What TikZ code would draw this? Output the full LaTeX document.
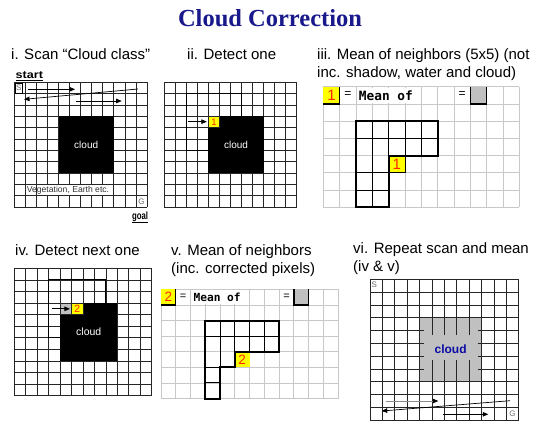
\documentclass[tikz,border=0pt]{standalone}
\usepackage{fontspec}
\setmainfont{Liberation Sans}
\newfontfamily\titlefont{Liberation Serif}
\newfontfamily\meanfont{DejaVu Sans Mono}
\usetikzlibrary{arrows.meta}
\definecolor{navy}{RGB}{25,25,140}
\definecolor{cloudblue}{RGB}{10,10,165}
\definecolor{yel}{RGB}{255,255,0}
\definecolor{digitred}{RGB}{255,40,0}
\definecolor{cgray}{RGB}{192,192,192}
\definecolor{lgrid}{RGB}{200,200,200}
\definecolor{sgray}{RGB}{105,105,105}
\tikzset{
  gridline/.style={line width=0.7pt, draw=black!85},
  lightgrid/.style={line width=0.8pt, draw=lgrid},
  thickout/.style={line width=2pt, draw=black, line join=miter, line cap=rect},
  medout/.style={line width=1.1pt, draw=black, line join=miter},
  innerline/.style={line width=0.9pt, draw=black},
  scanarrow/.style={line width=0.7pt, -{Triangle[length=5.5pt,width=4.5pt]}},
  grayarrow/.style={line width=0.7pt, draw=black!45, -{Triangle[length=5.5pt,width=4.5pt,color=black]}},
  ptitle/.style={font=\fontsize{15}{17}\selectfont, anchor=base west, inner sep=0},
  celltext/.style={inner sep=0, font=\fontsize{8}{9}\selectfont, text=sgray},
}
\begin{document}
\begin{tikzpicture}[x=1pt,y=-1pt]
\fill[white] (0,0) rectangle (538,421);
\useasboundingbox (0,0) rectangle (538,421);

% ---------- titles ----------
\node[font=\titlefont\bfseries\fontsize{24.5}{28}\selectfont, text=navy, anchor=base, inner sep=0] (title) at (270,26) {Cloud Correction};
\node[ptitle] (t1) at (11,59.5) {i. Scan “Cloud class”};
\node[ptitle] (t2) at (187,59.5) {ii. Detect one};
\node[ptitle] (t3a) at (317,59.5) {iii. Mean of neighbors (5x5) (not};
\node[ptitle] (t3b) at (317,77) {inc. shadow, water and cloud)};
\node[ptitle] (t4) at (15,255) {iv. Detect next one};
\node[ptitle] (t5a) at (171,255.5) {v. Mean of neighbors};
\node[ptitle] (t5b) at (171,273.5) {(inc. corrected pixels)};
\node[ptitle] (t6a) at (353,253.5) {vi. Repeat scan and mean};
\node[ptitle] (t6b) at (353,271) {(iv \& v)};

% ---------- panel i ----------
\begin{scope}[shift={(14.3,82.3)}, x=11.06pt, y=-11.34pt]
  \foreach \i in {0,...,12} \draw[gridline] (\i,0) -- (\i,11);
  \foreach \j in {0,...,11} \draw[gridline] (0,\j) -- (12,\j);
  \fill[black] (4,3) rectangle (9,8);
  \node[text=white, inner sep=0, font=\fontsize{10}{12}\selectfont] (cloudA) at (6.5,5.5) {cloud};
  \fill[white] (2.07,9.07) rectangle (8.93,9.93);
  \node[anchor=west, inner sep=0, font=\fontsize{8.6}{10}\selectfont, text=black!80] (veg) at (1.12,9.55) {Vegetation, Earth etc.};
  \node[draw=black, line width=0.6pt, fill=white, celltext, minimum width=7.6pt, minimum height=10pt, anchor=north west] (S1) at (0.03,0.03) {S};
  \node[celltext] (G1) at (11.5,10.5) {G};
\end{scope}
\node[anchor=base west, inner sep=0, font=\bfseries\fontsize{10.5}{12}\selectfont] (start) at (15.5,78) {\scalebox{1.2}[1]{start}};
\draw[line width=0.8pt] ([yshift=-2pt]start.base west) -- ([yshift=-2pt]start.base east);
\node[anchor=base east, inner sep=0, font=\bfseries\fontsize{10.5}{12}\selectfont] (goal) at (148.3,219.5) {\scalebox{0.74}[1]{goal}};
\draw[line width=0.8pt] ([yshift=-2.6pt]goal.base west) -- ([yshift=-2.6pt]goal.base east);
\coordinate (p1a) at (28,89.3);  \coordinate (p1b) at (75,89.3);
\coordinate (p1c) at (138,89);   \coordinate (p1d) at (24,99.3);
\coordinate (p1e) at (76,101);   \coordinate (p1f) at (121.7,101);
\draw[scanarrow] (p1a) -- (p1b);
\draw[scanarrow] (p1c) -- (p1d);
\draw[scanarrow] (p1e) -- (p1f);

% ---------- panel ii ----------
\begin{scope}[shift={(164.3,82.3)}, x=11.03pt, y=-11.34pt]
  \foreach \i in {0,...,12} \draw[gridline] (\i,0) -- (\i,11);
  \foreach \j in {0,...,11} \draw[gridline] (0,\j) -- (12,\j);
  \fill[black] (4,3) rectangle (9,8);
  \node[text=white, inner sep=0, font=\fontsize{10}{12}\selectfont] (cloudB) at (6.5,5.5) {cloud};
  \fill[yel] (4,3) rectangle (5,4);
  \draw[gridline] (4,3) rectangle (5,4);
  \node[text=digitred, inner sep=0, font=\fontsize{9.5}{11}\selectfont] (px1b) at (4.5,3.5) {1};
  \draw[medout] (4,6) -- (2,6) -- (2,1) -- (7,1) -- (7,3);
  \coordinate (p2a) at (2.18,3.47); \coordinate (p2b) at (3.86,3.47);
  \draw[scanarrow] (p2a) -- (p2b);
\end{scope}

% ---------- panel iii ----------
\begin{scope}[shift={(323.3,86.7)}, x=16.33pt, y=-17.23pt]
  \foreach \i in {0,...,12} \draw[lightgrid] (\i,0) -- (\i,7);
  \foreach \j in {0,...,7} \draw[lightgrid] (0,\j) -- (12,\j);
  \fill[yel] (0,0) rectangle (1,1);
  \draw[line width=1.3pt] (1,0) -- (1,1) -- (0,1);
  \node[text=digitred, inner sep=0, font=\fontsize{15}{17}\selectfont] (k1) at (0.5,0.5) {1};
  \node[inner sep=0, font=\fontsize{12}{14}\selectfont] (eq1) at (1.5,0.45) {=};
  \fill[white] (2.07,0.07) rectangle (5.93,0.93);
  \node[anchor=west, inner sep=0, font=\meanfont\bfseries\fontsize{12.8}{14}\selectfont] (mean1) at (2.17,0.5) {Mean of};
  \node[inner sep=0, font=\fontsize{12}{14}\selectfont] (eq2) at (8.5,0.45) {=};
  \fill[cgray] (9,0) rectangle (10,1);
  \draw[line width=1.5pt] (9,0) -- (9,1) -- (10,1) -- (10,0);
  % neighbourhood
  \draw[innerline] (3,2) -- (3,7);
  \foreach \i in {4,5,6} \draw[innerline] (\i,2) -- (\i,4);
  \draw[innerline] (2,3) -- (7,3);
  \draw[innerline] (2,5) -- (4,5);
  \draw[innerline] (2,6) -- (4,6);
  \fill[yel] (4,4) rectangle (5,5);
  \draw[innerline] (4,4) rectangle (5,5);
  \node[text=digitred, inner sep=0, font=\fontsize{15}{17}\selectfont] (px1c) at (4.5,4.5) {1};
  \draw[thickout] (2,2) -- (7,2) -- (7,4) -- (4,4) -- (4,7) -- (2,7) -- cycle;
\end{scope}

% ---------- panel iv ----------
\begin{scope}[shift={(14.3,268.3)}, x=11.45pt, y=-11.58pt]
  \foreach \i in {0,...,12} \draw[gridline] (\i,0) -- (\i,11);
  \foreach \j in {0,...,11} \draw[gridline] (0,\j) -- (12,\j);
  \fill[black] (4,3) rectangle (9,8);
  \node[text=white, inner sep=0, font=\fontsize{10.5}{12}\selectfont] (cloudD) at (6.5,5.5) {cloud};
  \fill[cgray] (4,3) rectangle (5,4);
  \fill[yel] (5,3) rectangle (6,4);
  \draw[gridline] (4,3) rectangle (6,4);
  \draw[gridline] (5,3) -- (5,4);
  \node[text=digitred, inner sep=0, font=\fontsize{10.5}{12}\selectfont] (px2d) at (5.5,3.5) {2};
  \draw[medout] (4,6) -- (3,6) -- (3,1) -- (8,1) -- (8,3);
  \coordinate (p4a) at (3.27,3.5); \coordinate (p4b) at (4.86,3.5);
  \draw[scanarrow] (p4a) -- (p4b);
\end{scope}

% ---------- panel v ----------
\begin{scope}[shift={(161,289.3)}, x=14.76pt, y=-15.6pt]
  \foreach \i in {0,...,12} \draw[lightgrid] (\i,0) -- (\i,7);
  \foreach \j in {0,...,7} \draw[lightgrid] (0,\j) -- (12,\j);
  \fill[yel] (0,0) rectangle (1,1);
  \draw[line width=1.3pt] (1,0) -- (1,1) -- (0,1);
  \node[text=digitred, inner sep=0, font=\fontsize{13.5}{15}\selectfont] (k2) at (0.5,0.5) {2};
  \node[inner sep=0, font=\fontsize{11}{13}\selectfont] (eq3) at (1.5,0.45) {=};
  \fill[white] (2.07,0.07) rectangle (5.93,0.93);
  \node[anchor=west, inner sep=0, font=\meanfont\bfseries\fontsize{11.2}{13}\selectfont] (mean2) at (2.19,0.5) {Mean of};
  \node[inner sep=0, font=\fontsize{11}{13}\selectfont] (eq4) at (8.5,0.45) {=};
  \fill[cgray] (9,0) rectangle (10,1);
  \draw[line width=1.4pt] (9,0) -- (9,1) -- (10,1) -- (10,0);
  % neighbourhood
  \foreach \i in {5,6,7} \draw[innerline] (\i,2) -- (\i,4);
  \draw[innerline] (4,2) -- (4,5);
  \draw[innerline] (3,3) -- (8,3);
  \draw[innerline] (3,5) -- (4,5);
  \draw[innerline] (3,6) -- (4,6);
  \fill[yel] (5,4) rectangle (6,5);
  \node[text=digitred, inner sep=0, font=\fontsize{13.5}{15}\selectfont] (px2e) at (5.5,4.5) {2};
  \draw[thickout] (3,2) -- (8,2) -- (8,4) -- (5,4) -- (5,5) -- (4,5) -- (4,7) -- (3,7) -- cycle;
\end{scope}

% ---------- panel vi ----------
\begin{scope}[shift={(370,279.3)}, x=12.4pt, y=-12.8pt]
  \fill[cgray] (4,3) rectangle (9,8);
  \foreach \i in {0,1,2,3,4,9,10,11,12} \draw[gridline] (\i,0) -- (\i,11);
  \foreach \i in {5,6,7,8} {
    \draw[gridline] (\i,0) -- (\i,4.35);
    \draw[gridline] (\i,6.3) -- (\i,11);
  }
  \foreach \j in {0,1,2,3,8,9,10,11} \draw[gridline] (0,\j) -- (12,\j);
  \foreach \j in {4,5,6,7} {
    \draw[gridline] (0,\j) -- (4.32,\j);
    \draw[gridline] (8.68,\j) -- (12,\j);
  }
  \node[text=cloudblue, inner sep=0, font=\bfseries\fontsize{12}{14}\selectfont] (cloudF) at (6.5,5.5) {cloud};
  \node[celltext] (S6) at (0.35,0.45) {S};
  \node[celltext] (G6) at (11.5,10.5) {G};
\end{scope}
\coordinate (p6a) at (386,401);   \coordinate (p6b) at (438.3,401);
\coordinate (p6c) at (510,400.7); \coordinate (p6d) at (381.7,411);
\coordinate (p6e) at (443.3,414.3); \coordinate (p6f) at (488.3,414.3);
\draw[grayarrow] (p6a) -- (p6b);
\draw[scanarrow] (p6c) -- (p6d);
\draw[scanarrow] (p6e) -- (p6f);
\end{tikzpicture}
\end{document}
